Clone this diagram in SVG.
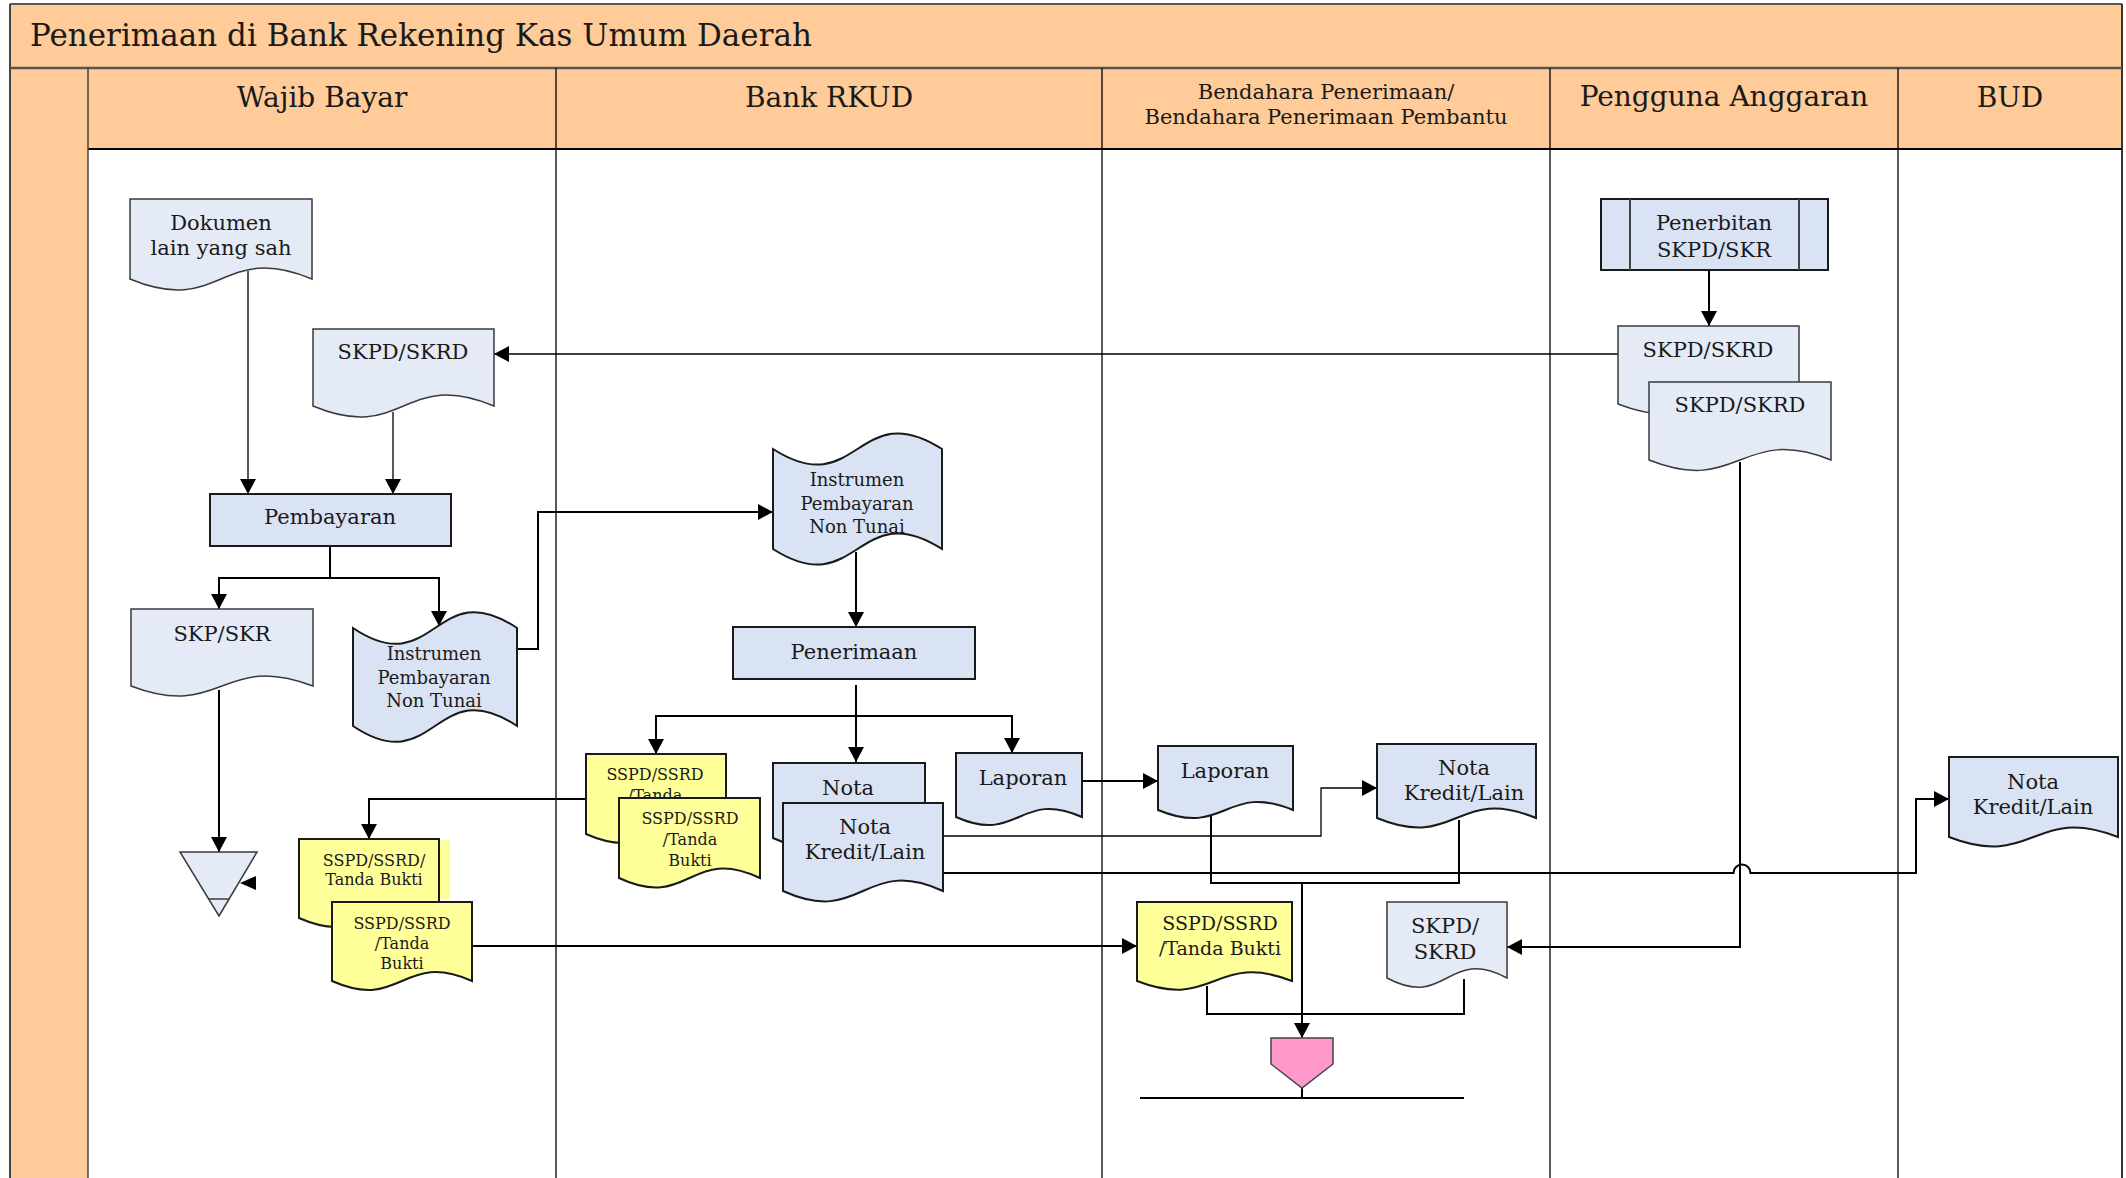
<svg xmlns="http://www.w3.org/2000/svg" width="2126" height="1178" viewBox="0 0 2126 1178">
<defs>
<marker id="ah" markerUnits="userSpaceOnUse" markerWidth="15" markerHeight="16" viewBox="0 0 15 16" refX="15" refY="8" orient="auto">
<path d="M0,0 L15,8 L0,16 Z" fill="#000"/>
</marker>
</defs>
<style>
.band{fill:#FFCB99;}
.t{font-family:"DejaVu Serif","Liberation Serif",serif;fill:#1a1a1a;text-anchor:middle;}
.title{font-size:31px;text-anchor:start;}
.hd{font-size:28px;}
.hs{font-size:21px;}
.n{font-size:21px;}
.s{font-size:16px;}
.m{font-size:19px;}
.i{font-size:18px;}
.pr{fill:#DAE3F3;stroke:#1a1a1a;stroke-width:2;}
.lt{fill:#E5EBF6;stroke:#3a3a3a;stroke-width:1.5;}
.ye{fill:#FFFF99;stroke:#1a1a1a;stroke-width:2;}
.c{fill:none;stroke:#000;stroke-width:2;}
.th{fill:none;stroke:#000;stroke-width:1.3;}
.ln{stroke:#000;stroke-width:1.3;fill:none;}
</style>

<g id="frame">
<rect x="0" y="0" width="2126" height="1178" fill="#fff"/>
<rect class="band" x="10" y="4" width="2112" height="64"/>
<rect class="band" x="10" y="68" width="78" height="1110"/>
<rect class="band" x="88" y="68" width="2034" height="81"/>
<line x1="10" y1="4" x2="2122" y2="4" stroke="#555" stroke-width="2"/>
<line x1="10" y1="4" x2="10" y2="1178" stroke="#444" stroke-width="2"/>
<line x1="2122" y1="4" x2="2122" y2="1178" stroke="#333" stroke-width="2"/>
<line x1="10" y1="68" x2="2122" y2="68" stroke="#555" stroke-width="2.5"/>
<line x1="88" y1="149" x2="2122" y2="149" stroke="#000" stroke-width="2"/>
<line x1="88" y1="68" x2="88" y2="1178" stroke="#444" stroke-width="1.5"/>
<line class="ln" x1="556" y1="68" x2="556" y2="1178"/>
<line class="ln" x1="1102" y1="68" x2="1102" y2="1178"/>
<line class="ln" x1="1550" y1="68" x2="1550" y2="1178"/>
<line class="ln" x1="1898" y1="68" x2="1898" y2="1178"/>
<text class="t title" x="30" y="46">Penerimaan di Bank Rekening Kas Umum Daerah</text>
<text class="t hd" x="322" y="107">Wajib Bayar</text>
<text class="t hd" x="829" y="107">Bank RKUD</text>
<text class="t hs" x="1326" y="99">Bendahara Penerimaan/</text>
<text class="t hs" x="1326" y="124">Bendahara Penerimaan Pembantu</text>
<text class="t hd" x="1724" y="106">Pengguna Anggaran</text>
<text class="t hd" x="2010" y="107">BUD</text>
</g>

<g id="connectors">
<path class="th" d="M248 271 V494" marker-end="url(#ah)"/>
<path class="th" d="M393 412 V494" marker-end="url(#ah)"/>
<path class="c" d="M330 546 V578 H219 V609" marker-end="url(#ah)"/>
<path class="c" d="M330 578 H439 V626" marker-end="url(#ah)"/>
<path class="c" d="M219 690 V852" marker-end="url(#ah)"/>
<path d="M240 883 L256 876 L256 890 Z" fill="#000"/>
<path class="c" d="M517 649 H538 V512 H773" marker-end="url(#ah)"/>
<path class="c" d="M856 552 V627" marker-end="url(#ah)"/>
<path class="c" d="M856 685 V762" marker-end="url(#ah)"/>
<path class="c" d="M656 754 V716 H1012 V753" marker-end="url(#ah)"/>
<path class="c" d="M656 716 V754" marker-end="url(#ah)"/>
<path class="c" d="M586 799 H369 V839" marker-end="url(#ah)"/>
<path class="c" d="M1082 781 H1158" marker-end="url(#ah)"/>
<path class="th" d="M943 836 H1321 V788 H1377" marker-end="url(#ah)"/>
<path class="c" d="M943 873 H1733.5 A8.5 8.5 0 0 1 1750.5 873 H1916 V799 H1949" marker-end="url(#ah)"/>
<path class="c" d="M1211 813 V883 H1459 V820"/>
<path class="c" d="M1302 883 V1038" marker-end="url(#ah)"/>
<path class="c" d="M1207 986 V1014 H1464 V979"/>
<path class="c" d="M472 946 H1137" marker-end="url(#ah)"/>
<path class="c" d="M1709 270 V326" marker-end="url(#ah)"/>
<path class="th" d="M1618 354 H494" marker-end="url(#ah)"/>
<path class="c" d="M1740 462 V947 H1507" marker-end="url(#ah)"/>
<path class="c" d="M1302 1088 V1098"/>
<line x1="1140" y1="1098" x2="1464" y2="1098" stroke="#000" stroke-width="2"/>
</g>

<g id="dokumen">
<path class="lt" d="M130 199 H312 V279 C221 241 221 317 130 279 Z"/>
<text class="t n" x="221" y="230">Dokumen</text>
<text class="t n" x="221" y="255">lain yang sah</text>
</g>

<g id="skpd-wajib">
<path class="lt" d="M313 329 H494 V406 C403.5 368 403.5 444 313 406 Z"/>
<text class="t n" x="403" y="359">SKPD/SKRD</text>
</g>

<g id="pembayaran">
<rect class="pr" x="210" y="494" width="241" height="52" stroke="#555"/>
<text class="t n" x="330" y="524">Pembayaran</text>
</g>

<g id="skp-skr">
<path class="lt" d="M131 609 H313 V686 C222 651 222 721 131 686 Z"/>
<text class="t n" x="222" y="641">SKP/SKR</text>
</g>

<g id="arsip">
<path class="lt" d="M180 852 H257 L219 916 Z"/>
<line x1="208.6" y1="899" x2="229.4" y2="899" stroke="#3a3a3a" stroke-width="1.5"/>
</g>

<g id="instrumen-wajib">
<path class="pr" d="M353 628 C435 683 435 573 517 628 V726 C435 671 435 781 353 726 Z"/>
<text class="t i" x="434" y="660">Instrumen</text>
<text class="t i" x="434" y="684">Pembayaran</text>
<text class="t i" x="434" y="707">Non Tunai</text>
</g>

<g id="sspd-wajib">
<rect x="439" y="840" width="11" height="59" fill="#FFFF99"/>
<path class="ye" d="M299 839 H439 V918 C369 887 369 949 299 918 Z"/>
<text class="t s" x="374" y="866">SSPD/SSRD/</text>
<text class="t s" x="374" y="885">Tanda Bukti</text>
<path class="ye" d="M332 902 H472 V981 C402 950 402 1012 332 981 Z"/>
<text class="t s" x="402" y="929">SSPD/SSRD</text>
<text class="t s" x="402" y="949">/Tanda</text>
<text class="t s" x="402" y="969">Bukti</text>
</g>

<g id="instrumen-bank">
<path class="pr" d="M773 449 C857.5 503 857.5 395 942 449 V549 C857.5 495 857.5 603 773 549 Z"/>
<text class="t i" x="857" y="486">Instrumen</text>
<text class="t i" x="857" y="510">Pembayaran</text>
<text class="t i" x="857" y="533">Non Tunai</text>
</g>

<g id="penerimaan">
<rect class="pr" x="733" y="627" width="242" height="52" stroke="#555"/>
<text class="t n" x="854" y="659">Penerimaan</text>
</g>

<g id="sspd-bank">
<path class="ye" d="M586 754 H726 V834 C656 803 656 865 586 834 Z"/>
<text class="t s" x="655" y="780">SSPD/SSRD</text>
<text class="t s" x="655" y="801">/Tanda</text>
<path class="ye" d="M619 798 H760 V878 C689.5 845 689.5 911 619 878 Z"/>
<text class="t s" x="690" y="824">SSPD/SSRD</text>
<text class="t s" x="690" y="845">/Tanda</text>
<text class="t s" x="690" y="866">Bukti</text>
</g>

<g id="nota-bank">
<path class="pr" d="M773 763 H925 V838 C849 803 849 873 773 838 Z"/>
<text class="t n" x="848" y="795">Nota</text>
<path class="pr" d="M783 803 H943 V891 C863 855 863 927 783 891 Z"/>
<text class="t n" x="865" y="834">Nota</text>
<text class="t n" x="865" y="859">Kredit/Lain</text>
</g>

<g id="laporan-bank">
<path class="pr" d="M956 753 H1082 V817 C1019 789 1019 845 956 817 Z"/>
<text class="t n" x="1023" y="785">Laporan</text>
</g>

<g id="laporan-bendahara">
<path class="pr" d="M1158 746 H1293 V810 C1225.5 782 1225.5 838 1158 810 Z"/>
<text class="t n" x="1225" y="778">Laporan</text>
</g>

<g id="nota-bendahara">
<path class="pr" d="M1377 744 H1536 V818 C1456.5 785 1456.5 851 1377 818 Z"/>
<text class="t n" x="1464" y="775">Nota</text>
<text class="t n" x="1464" y="800">Kredit/Lain</text>
</g>

<g id="sspd-bendahara">
<path class="ye" d="M1137 902 H1292 V981 C1214.5 951 1214.5 1011 1137 981 Z"/>
<text class="t m" x="1220" y="930">SSPD/SSRD</text>
<text class="t m" x="1220" y="955">/Tanda Bukti</text>
</g>

<g id="skpd-bendahara">
<path class="lt" d="M1387 902 H1507 V978 C1447 946 1447 1010 1387 978 Z"/>
<text class="t n" x="1445" y="933">SKPD/</text>
<text class="t n" x="1445" y="959">SKRD</text>
</g>

<g id="konektor">
<path d="M1271 1038 H1333 V1064 L1302 1088 L1271 1064 Z" fill="#FF99CC" stroke="#444" stroke-width="1.5"/>
</g>

<g id="penerbitan">
<rect class="pr" x="1601" y="199" width="227" height="71" stroke="#444"/>
<line x1="1630" y1="199" x2="1630" y2="270" stroke="#444" stroke-width="2"/>
<line x1="1799" y1="199" x2="1799" y2="270" stroke="#444" stroke-width="2"/>
<text class="t n" x="1714" y="230">Penerbitan</text>
<text class="t n" x="1714" y="257">SKPD/SKR</text>
</g>

<g id="skpd-pengguna">
<path class="lt" d="M1618 326 H1799 V404 C1708.5 369 1708.5 439 1618 404 Z" stroke="#1a1a1a" stroke-width="2"/>
<text class="t n" x="1708" y="357">SKPD/SKRD</text>
<path class="lt" d="M1649 382 H1831 V460 C1740 424 1740 496 1649 460 Z" stroke="#1a1a1a" stroke-width="2"/>
<text class="t n" x="1740" y="412">SKPD/SKRD</text>
</g>

<g id="nota-bud">
<path class="pr" d="M1949 757 H2118 V837 C2033.5 804 2033.5 870 1949 837 Z"/>
<text class="t n" x="2033" y="789">Nota</text>
<text class="t n" x="2033" y="814">Kredit/Lain</text>
</g>
</svg>
